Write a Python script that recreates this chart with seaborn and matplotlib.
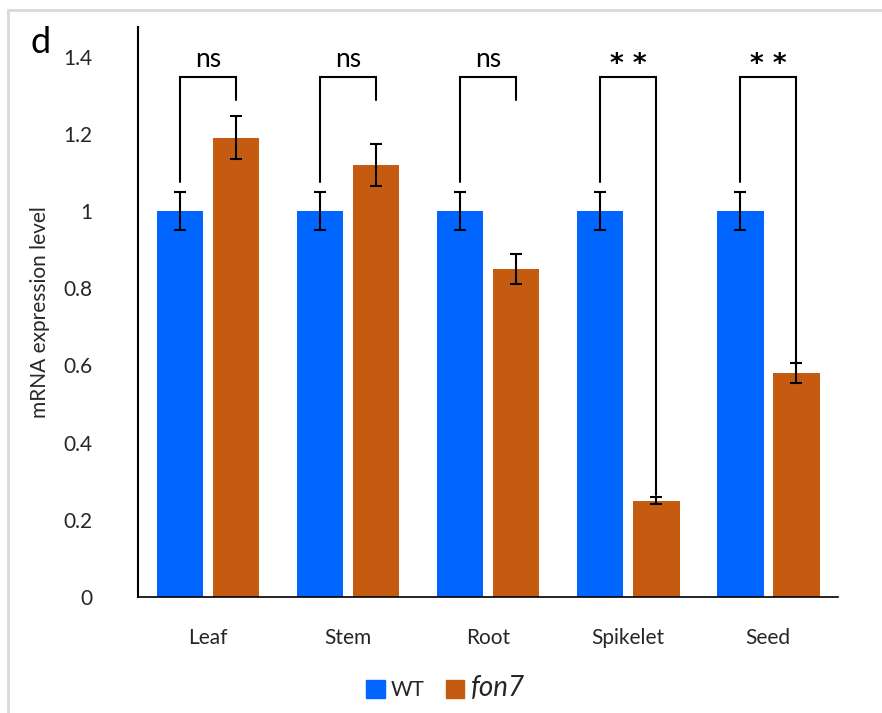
import matplotlib.pyplot as plt
import matplotlib.patches as mpatches
import seaborn as sns
import pandas as pd
import numpy as np

sns.set_theme(style="white")
plt.rcParams['font.family'] = ['Lato', 'DejaVu Sans']

# data
tissues = ['Leaf', 'Stem', 'Root', 'Spikelet', 'Seed']
wt_mean = [1.0, 1.0, 1.0, 1.0, 1.0]
wt_err = [0.05, 0.05, 0.05, 0.05, 0.05]
fon7_mean = [1.19, 1.12, 0.85, 0.25, 0.58]
fon7_err = [0.055, 0.055, 0.04, 0.01, 0.025]
signif = ['ns', 'ns', 'ns', '**', '**']

df = pd.DataFrame({
    'Tissue': tissues * 2,
    'Genotype': ['WT'] * 5 + ['fon7'] * 5,
    'Expr': wt_mean + fon7_mean,
})

blue = '#0066FF'
orange = '#C55A11'

fig = plt.figure(figsize=(8.82, 7.13), dpi=100)
ax = fig.add_axes([0.1565, 0.1627, 0.794, 0.7995])

sns.barplot(data=df, x='Tissue', y='Expr', hue='Genotype', order=tissues,
            hue_order=['WT', 'fon7'], palette=[blue, orange], saturation=1,
            width=0.8, gap=0.17, errorbar=None, legend=False, ax=ax,
            edgecolor='none')

# bar centres taken from the patches seaborn drew
bars = [p for p in ax.patches if p.get_height() > 0]
wt_x = [p.get_x() + p.get_width() / 2 for p in bars[:5]]
fon_x = [p.get_x() + p.get_width() / 2 for p in bars[5:10]]

ax.errorbar(wt_x, wt_mean, yerr=wt_err, fmt='none', ecolor='black',
            elinewidth=1.5, capsize=4, capthick=1.5)
ax.errorbar(fon_x, fon7_mean, yerr=fon7_err, fmt='none', ecolor='black',
            elinewidth=1.5, capsize=4, capthick=1.5)

# significance brackets
top = 1.347
for i in range(5):
    left_low = 1.075
    mid = (wt_x[i] + fon_x[i]) / 2
    if signif[i] == 'ns':
        right_low = 1.288
        ax.text(mid, 1.36, 'ns', ha='center', va='bottom', fontsize=19,
                color='black')
    else:
        right_low = fon7_mean[i] + fon7_err[i] + 0.005
        ax.text(mid, 1.378, '* *', ha='center', va='center', fontsize=19,
                color='black', family='DejaVu Sans', fontweight='bold')
    ax.plot([wt_x[i], wt_x[i], fon_x[i], fon_x[i]],
            [left_low, top, top, right_low], color='black', lw=1.5,
            solid_joinstyle='miter')

ax.set_xlim(-0.5, 4.5)
ax.set_ylim(0, 1.477)
ax.set_yticks(np.arange(0, 1.41, 0.2))
ax.set_yticklabels(['0', '0.2', '0.4', '0.6', '0.8', '1', '1.2', '1.4'])
ax.tick_params(axis='y', length=0, pad=33, labelsize=15)
ax.tick_params(axis='x', length=0, pad=22, labelsize=15)
ax.set_xlabel('')
ax.set_ylabel('mRNA expression level', fontsize=15)
ax.yaxis.set_label_coords(-0.125, 0.5)

for s in ['top', 'right']:
    ax.spines[s].set_visible(False)
ax.spines['left'].set_color('black')
ax.spines['left'].set_linewidth(1.5)
ax.spines['bottom'].set_color('black')
ax.spines['bottom'].set_linewidth(1.2)

# legend
handles = [mpatches.Patch(color=blue, label='WT'),
           mpatches.Patch(color=orange, label='fon7')]
leg = fig.legend(handles=handles, loc='center', bbox_to_anchor=(0.505, 0.035),
                 ncol=2, frameon=False, handlelength=0.9, handleheight=0.9,
                 handletextpad=0.3, columnspacing=1.0, fontsize=15)
leg.get_texts()[1].set_fontstyle('italic')
leg.get_texts()[1].set_fontsize(20)

fig.text(0.035, 0.925, 'd', fontsize=26, color='black')

# light grey frame around the panel
fig.patches.append(mpatches.Rectangle((0.009, -0.05), 1.1, 1.036,
                                      transform=fig.transFigure, fill=False,
                                      edgecolor='#d9d9d9', lw=2))

fig.savefig('out.png', dpi=100)
